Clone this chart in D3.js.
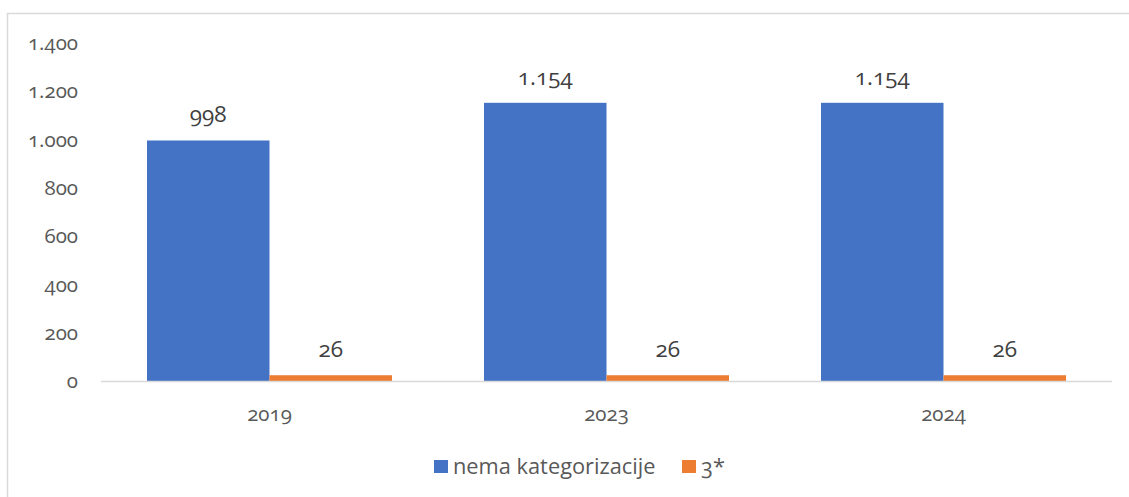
<!DOCTYPE html>
<html><head><meta charset="utf-8">
<script src="https://cdn.jsdelivr.net/npm/d3@7"></script>
<style>
html,body{margin:0;padding:0;background:#fff;}
svg{display:block;}
svg text{font-family:"Open Sans",sans-serif;font-variant-numeric:oldstyle-nums;}
</style></head><body>
<svg id="c" width="1129" height="497"></svg>
<script>
const categories = ["2019","2023","2024"];
const seriesNames = ["nema kategorizacije","3*"];
const nemaValues = [998,1154,1154];
const threeStarValues = [26,26,26];
const yTicks = [0,200,400,600,800,1000,1200,1400];
const colors = ["#4472C4","#ED7D31"];

const svg = d3.select("#c");
const fmt = v => d3.format(",")(v).replace(/,/g,".");

// chart border
svg.append("rect").attr("x",7.5).attr("y",13.5).attr("width",1140).attr("height",500)
  .attr("fill","none").attr("stroke","#d9d9d9").attr("stroke-width",1.5);

const x0 = d3.scaleBand().domain(categories).range([101,1112]).paddingInner(0.273).paddingOuter(0.1365);
const x1 = d3.scaleBand().domain(seriesNames).range([0,x0.bandwidth()]);
const y = d3.scaleLinear().domain([0,1400]).range([381.5,43.4]);

// y tick labels
const yAxis = d3.axisLeft(y).tickValues(yTicks).tickFormat(fmt).tickSize(0).tickPadding(0);
const ya = svg.append("g").attr("transform","translate(78,0)").call(yAxis);
ya.attr("font-family",null).attr("font-size",null);
ya.select(".domain").remove();
ya.selectAll("text").attr("fill","#595959").style("font-size","20.5px").attr("dy","0.3em");

const data = categories.map((c,i)=>({cat:c, vals:[nemaValues[i],threeStarValues[i]]}));
const g = svg.append("g");
data.forEach(d=>{
  d.vals.forEach((v,j)=>{
    const xx = x0(d.cat)+x1(seriesNames[j]);
    g.append("rect").attr("x",xx).attr("y",y(v)).attr("width",x1.bandwidth()).attr("height",y(0)-y(v))
      .attr("fill",colors[j]);
    g.append("text").attr("class","dl").attr("x",xx+x1.bandwidth()/2).attr("y",y(v)-18).attr("text-anchor","middle")
      .attr("fill","#404040").style("font-size","22.5px").text(fmt(v));
  });
});

// x axis
const xAxis = d3.axisBottom(x0).tickSize(0).tickPadding(0);
const xa = svg.append("g").attr("transform","translate(0,381.5)").call(xAxis);
xa.attr("font-family",null).attr("font-size",null);
xa.select(".domain").attr("stroke","#d9d9d9").attr("stroke-width",1.5).attr("d","M101,0H1112");
xa.selectAll("text").attr("fill","#595959").style("font-size","20.5px").attr("dy",null).attr("y",39);

// legend
const legend = svg.append("g");
const lx = [434,682];
seriesNames.forEach((s,j)=>{
  legend.append("rect").attr("x",lx[j]).attr("y",460).attr("width",14).attr("height",13).attr("fill",colors[j]);
  legend.append("text").attr("x",lx[j]+19).attr("y",473.5).attr("fill","#595959").style("font-size","21.8px").text(s);
});
</script></body></html>
